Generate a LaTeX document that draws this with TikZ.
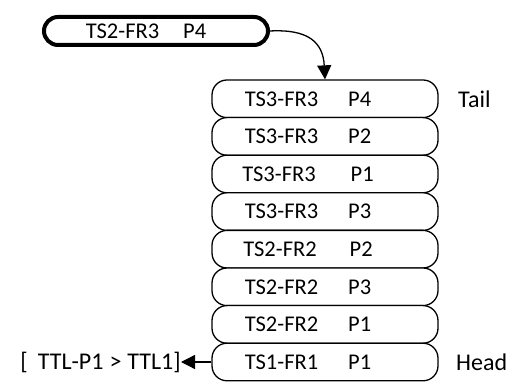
\documentclass[tikz,border=0pt]{standalone}
\usepackage{fontspec}
\setmainfont{Carlito}
\usetikzlibrary{arrows.meta}
\begin{document}
\begin{tikzpicture}[x=1pt,y=1pt,
  font=\fontsize{22.5}{26}\selectfont,
  cell/.style={draw=black, line width=1.3pt, rounded corners=15pt,
    minimum width=226pt, minimum height=37.6pt, inner sep=0pt, fill=white,
    text depth=0pt, execute at begin node={\hspace*{-34pt}}},
  newcell/.style={draw=black, line width=4pt, rounded corners=14pt,
    minimum width=224pt, minimum height=28pt, inner sep=0pt,
    execute at begin node={\hspace*{-20pt}}},
  tip/.style={-{Triangle[length=14pt,width=14pt]}, line width=1.3pt},
  tag/.style={inner sep=0pt, font=\fontsize{24}{28}\selectfont}]
\useasboundingbox (0,0) rectangle (519,382);
% incoming entry
\node[newcell] (new) at (156,351) {TS2-FR3\hspace{24pt}P4};
% the queue, tail on top
\node[cell] (q1) at (325,283.2) {TS3-FR3\hspace{30pt}P4};
\node[cell] (q2) at (325,245.6) {TS3-FR3\hspace{30pt}P2};
\node[cell] (q3) at (325,208.0) {TS3-FR3\hspace{35pt}P1};
\node[cell] (q4) at (325,170.4) {TS3-FR3\hspace{30pt}P3};
\node[cell] (q5) at (325,132.8) {TS2-FR2\hspace{33pt}P2};
\node[cell] (q6) at (325,95.2) {TS2-FR2\hspace{30pt}P3};
\node[cell] (q7) at (325,57.6) {TS2-FR2\hspace{30pt}P1};
\node[cell] (q8) at (325,20.0) {TS1-FR1\hspace{30pt}P1};
\node[tag, anchor=west] (tail) at (458,283.2) {Tail};
\node[tag, anchor=west] (head) at (456,20.0) {Head};
\node[tag, anchor=east] (out) at (181,20.0)
  {[\hspace{10pt}TTL-P1\hspace{6pt}>\hspace{6pt}TTL1]};
% connectors
\draw[tip] (new.east) .. controls (308,353) and (323,340) .. (q1.north);
\draw[tip] (q8.west) -- (out.east);
\end{tikzpicture}
\end{document}
